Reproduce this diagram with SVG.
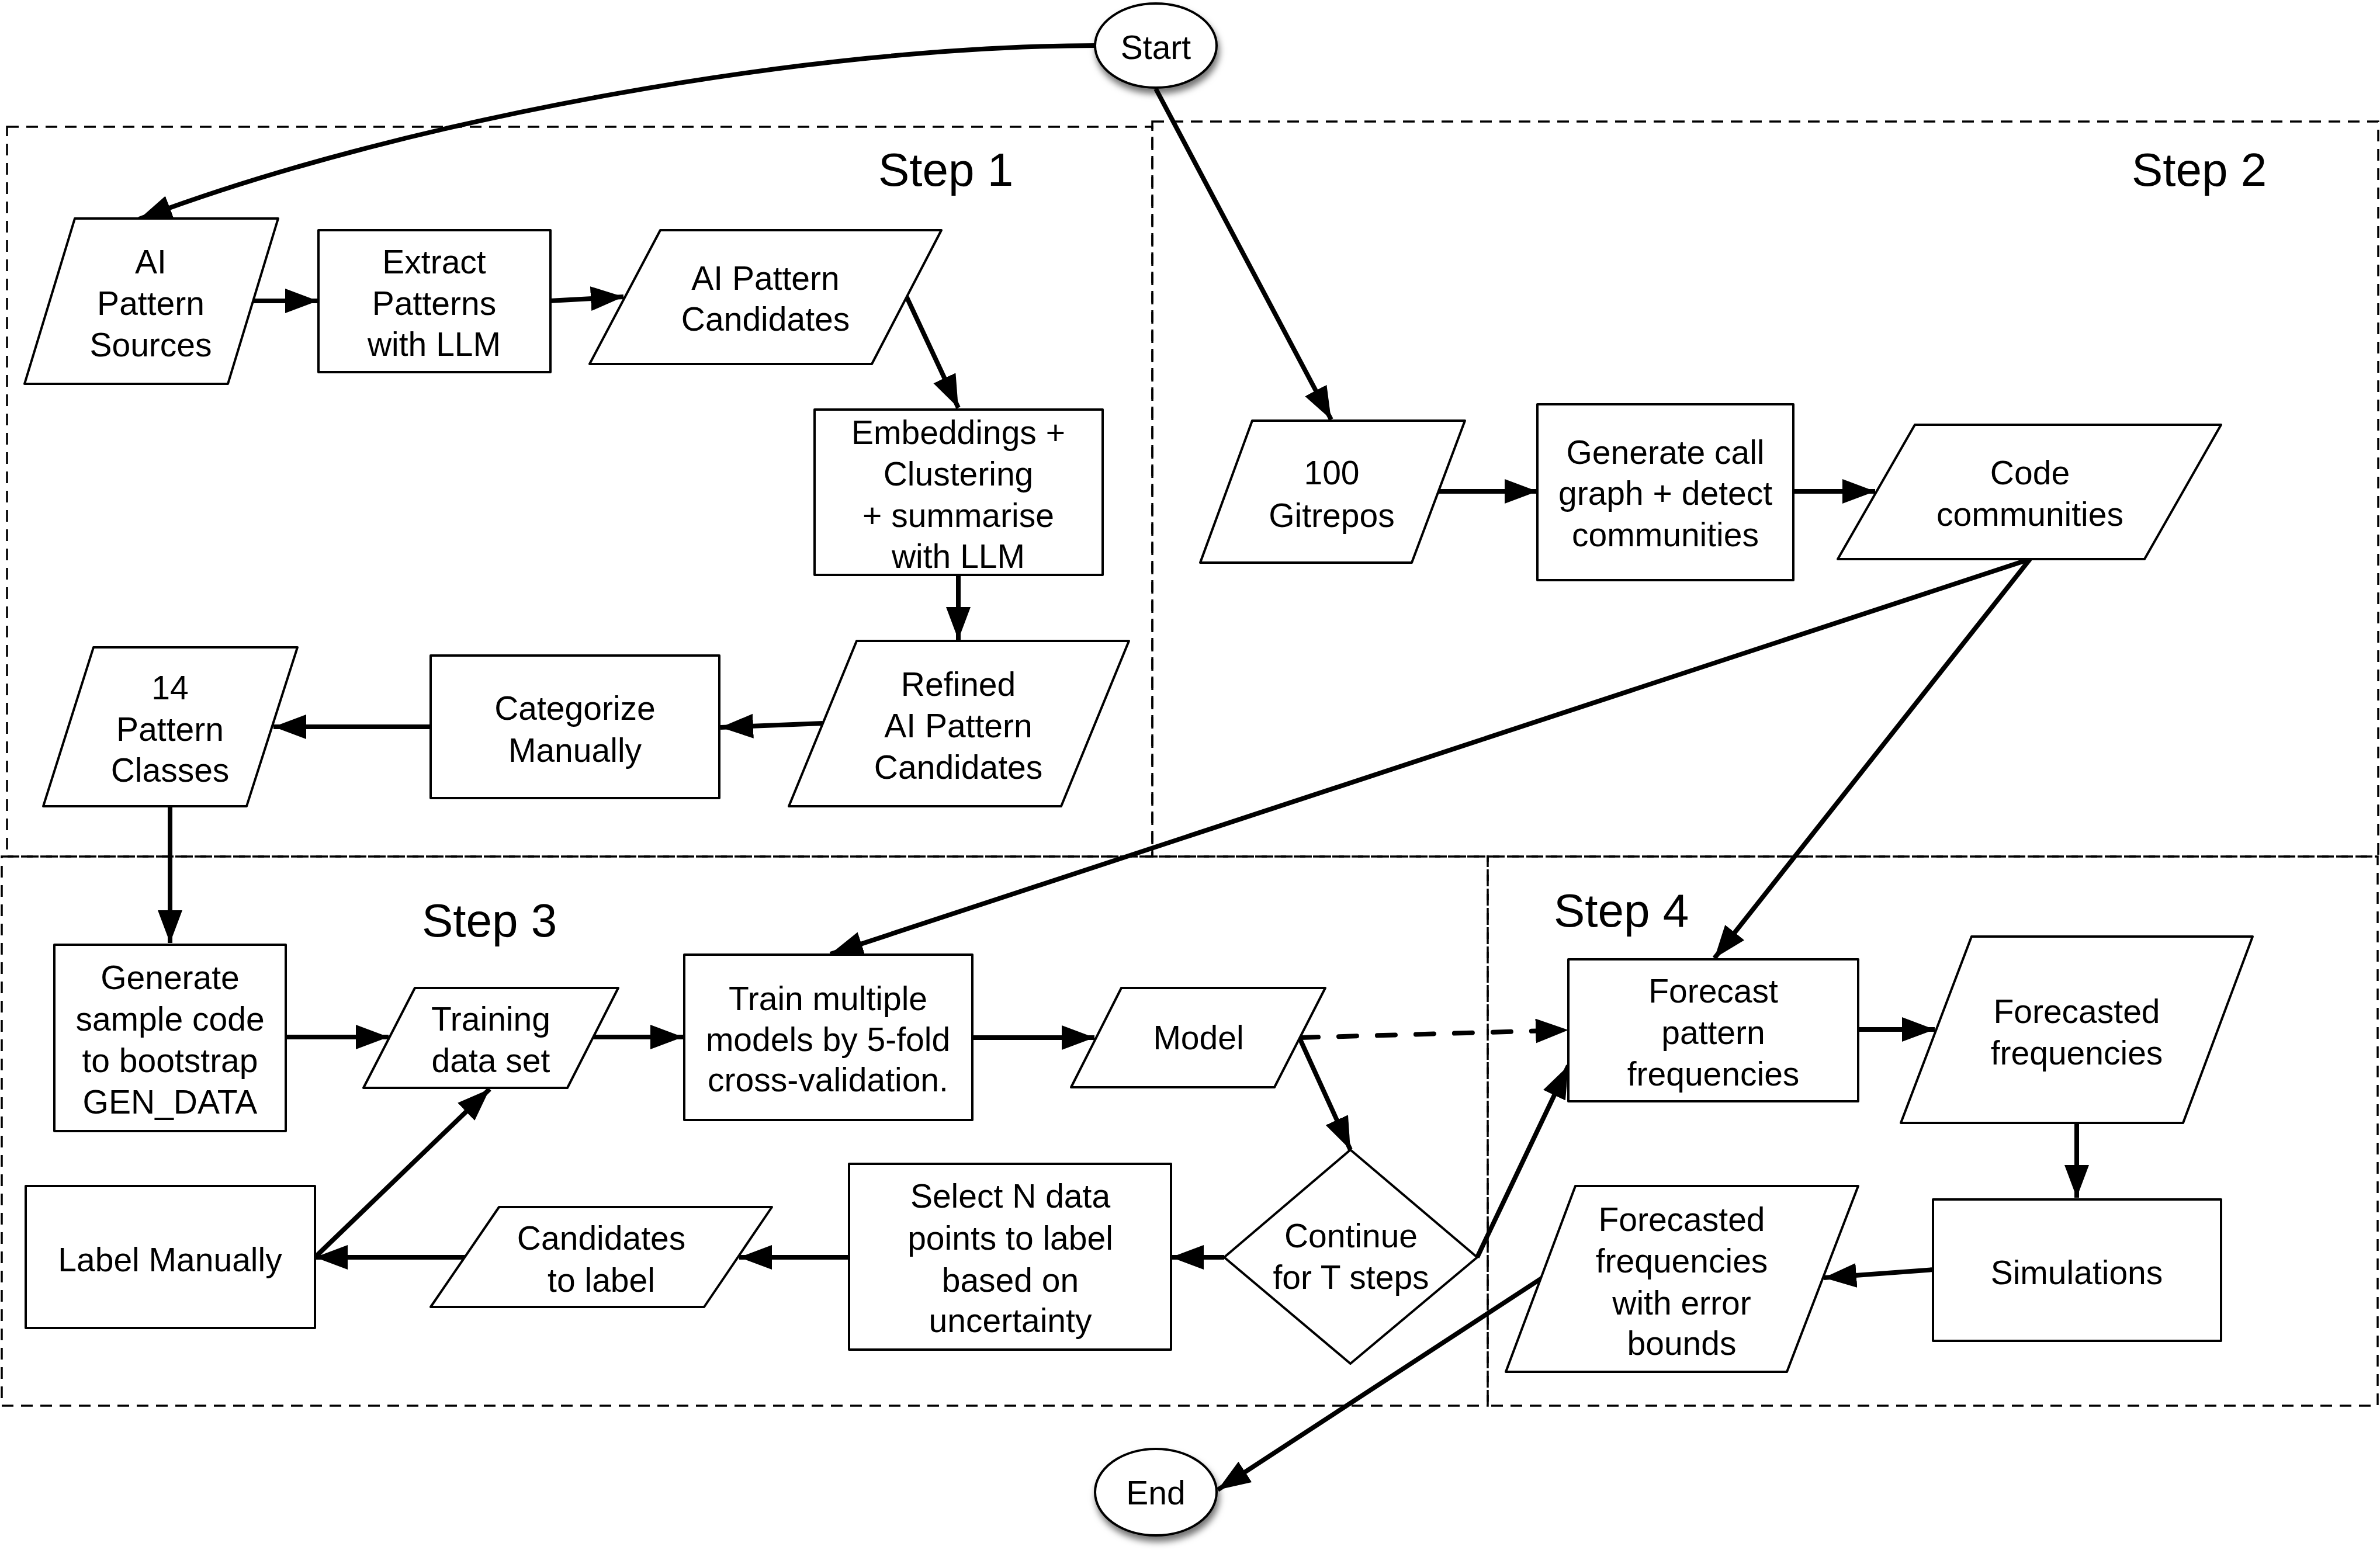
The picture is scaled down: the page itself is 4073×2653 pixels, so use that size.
<svg xmlns="http://www.w3.org/2000/svg" width="4073" height="2653" viewBox="0 0 4073 2653">
<style>
text{font-family:"Liberation Sans",Arial,Helvetica,sans-serif;font-size:57px;fill:#000;text-anchor:middle}
.step{font-size:80px;text-anchor:start}
.box{fill:#fff;stroke:#000;stroke-width:4;stroke-linejoin:round}
.frame{fill:none;stroke:#000;stroke-width:3.5;stroke-dasharray:20 13}
.edge{fill:none;stroke:#000;stroke-width:8}
.dash{stroke-dasharray:31 35;stroke-linecap:round}
</style>
<defs>
<marker id="ah" markerUnits="userSpaceOnUse" markerWidth="60" markerHeight="46" refX="56" refY="21" orient="auto">
<path d="M0,0 L56,21 L0,42 z" fill="#000"/>
</marker>
<filter id="sh" x="-30%" y="-30%" width="160%" height="170%">
<feDropShadow dx="3" dy="9" stdDeviation="6" flood-color="#000" flood-opacity="0.55"/>
</filter>
</defs>
<rect width="4073" height="2653" fill="#fff"/>
<g id="frames">
<rect class="frame" x="12" y="217" width="1960" height="1249"/>
<rect class="frame" x="1972" y="208" width="2098" height="1258"/>
<rect class="frame" x="3" y="1466" width="2543" height="940"/>
<rect class="frame" x="2546" y="1466" width="1523" height="940"/>
<text class="step" x="1503" y="318">Step 1</text>
<text class="step" x="3648" y="318">Step 2</text>
<text class="step" x="722" y="1603">Step 3</text>
<text class="step" x="2659" y="1586">Step 4</text>
</g>
<g id="connectors">
<path class="edge" marker-end="url(#ah)" d="M1874,78 C1400,78 700,200 238,375"/>
<path class="edge" marker-end="url(#ah)" d="M1978,152 L2278,718"/>
<path class="edge" marker-end="url(#ah)" d="M432,515 L544,515"/>
<path class="edge" marker-end="url(#ah)" d="M940,515 L1067,508"/>
<path class="edge" marker-end="url(#ah)" d="M1551,507 L1640,698"/>
<path class="edge" marker-end="url(#ah)" d="M1640,984 L1640,1095"/>
<path class="edge" marker-end="url(#ah)" d="M1408,1238 L1233,1245"/>
<path class="edge" marker-end="url(#ah)" d="M737,1244 L468,1244"/>
<path class="edge" marker-end="url(#ah)" d="M291,1380 L291,1614"/>
<path class="edge" marker-end="url(#ah)" d="M2460,841 L2631,841"/>
<path class="edge" marker-end="url(#ah)" d="M3067,841 L3209,841"/>
<path class="edge" marker-end="url(#ah)" d="M3474,957 L1421,1633"/>
<path class="edge" marker-end="url(#ah)" d="M3474,957 L2934,1640"/>
<path class="edge" marker-end="url(#ah)" d="M487,1775 L665,1775"/>
<path class="edge" marker-end="url(#ah)" d="M1013,1775 L1169,1775"/>
<path class="edge" marker-end="url(#ah)" d="M1664,1776 L1873,1776"/>
<path class="edge dash" marker-end="url(#ah)" d="M2225,1776 L2684,1763"/>
<path class="edge" marker-end="url(#ah)" d="M2225,1779 L2311,1968"/>
<path class="edge" marker-end="url(#ah)" d="M2095,2152 L2004,2152"/>
<path class="edge" marker-end="url(#ah)" d="M1453,2152 L1265,2152"/>
<path class="edge" marker-end="url(#ah)" d="M796,2152 L539,2152"/>
<path class="edge" marker-end="url(#ah)" d="M539,2152 L838,1864"/>
<path class="edge" marker-end="url(#ah)" d="M2528,2152 L2684,1824"/>
<path class="edge" marker-end="url(#ah)" d="M3180,1762 L3311,1762"/>
<path class="edge" marker-end="url(#ah)" d="M3554,1922 L3554,2050"/>
<path class="edge" marker-end="url(#ah)" d="M3310,2173 L3121,2187"/>
<path class="edge" marker-end="url(#ah)" d="M2638,2188 L2084,2550"/>
</g>
<g id="start">
<ellipse class="box" cx="1978" cy="78" rx="104" ry="72" filter="url(#sh)"/>
<text x="1978" y="101">Start</text>
</g>
<g id="ai-pattern-sources">
<polygon class="box" points="128,374 476,374 390,657 42,657"/>
<text x="258" y="468">AI</text><text x="258" y="539">Pattern</text><text x="258" y="610">Sources</text>
</g>
<g id="extract-patterns">
<rect class="box" x="545" y="394" width="397" height="243"/>
<text x="743" y="468">Extract</text><text x="743" y="539">Patterns</text><text x="743" y="609">with LLM</text>
</g>
<g id="ai-pattern-candidates">
<polygon class="box" points="1130,394 1611,394 1492,623 1009,623"/>
<text x="1310" y="496">AI Pattern</text><text x="1310" y="566">Candidates</text>
</g>
<g id="embeddings">
<rect class="box" x="1394" y="701" width="493" height="283"/>
<text x="1640" y="760">Embeddings +</text><text x="1640" y="831">Clustering</text><text x="1640" y="902">+ summarise</text><text x="1640" y="972">with LLM</text>
</g>
<g id="refined-candidates">
<polygon class="box" points="1466,1097 1932,1097 1816,1380 1350,1380"/>
<text x="1640" y="1191">Refined</text><text x="1640" y="1262">AI Pattern</text><text x="1640" y="1333">Candidates</text>
</g>
<g id="categorize">
<rect class="box" x="737" y="1122" width="494" height="244"/>
<text x="984" y="1232">Categorize</text><text x="984" y="1304">Manually</text>
</g>
<g id="pattern-classes">
<polygon class="box" points="160,1108 509,1108 422,1380 74,1380"/>
<text x="291" y="1197">14</text><text x="291" y="1268">Pattern</text><text x="291" y="1338">Classes</text>
</g>
<g id="gitrepos">
<polygon class="box" points="2143,720 2507,720 2416,963 2054,963"/>
<text x="2279" y="829">100</text><text x="2279" y="902">Gitrepos</text>
</g>
<g id="call-graph">
<rect class="box" x="2631" y="692" width="438" height="301"/>
<text x="2850" y="794">Generate call</text><text x="2850" y="864">graph + detect</text><text x="2850" y="935">communities</text>
</g>
<g id="code-communities">
<polygon class="box" points="3277,727 3801,727 3670,957 3145,957"/>
<text x="3474" y="829">Code</text><text x="3474" y="900">communities</text>
</g>
<g id="generate-sample">
<rect class="box" x="93" y="1617" width="396" height="319"/>
<text x="291" y="1693">Generate</text><text x="291" y="1764">sample code</text><text x="291" y="1835">to bootstrap</text><text x="291" y="1906">GEN_DATA</text>
</g>
<g id="training-data">
<polygon class="box" points="710,1691 1058,1691 971,1862 622,1862"/>
<text x="840" y="1764">Training</text><text x="840" y="1835">data set</text>
</g>
<g id="train-models">
<rect class="box" x="1171" y="1634" width="493" height="283"/>
<text x="1417" y="1729">Train multiple</text><text x="1417" y="1799">models by 5-fold</text><text x="1417" y="1868">cross-validation.</text>
</g>
<g id="model">
<polygon class="box" points="1919,1691 2268,1691 2181,1861 1833,1861"/>
<text x="2051" y="1796">Model</text>
</g>
<g id="continue">
<polygon class="box" points="2311,1968 2528,2152 2311,2334 2095,2152"/>
<text x="2312" y="2135">Continue</text><text x="2312" y="2206">for T steps</text>
</g>
<g id="select-n">
<rect class="box" x="1453" y="1992" width="551" height="318"/>
<text x="1729" y="2067">Select N data</text><text x="1729" y="2139">points to label</text><text x="1729" y="2211">based on</text><text x="1729" y="2280">uncertainty</text>
</g>
<g id="candidates-to-label">
<polygon class="box" points="854,2066 1321,2066 1205,2237 737,2237"/>
<text x="1029" y="2139">Candidates</text><text x="1029" y="2211">to label</text>
</g>
<g id="label-manually">
<rect class="box" x="44" y="2030" width="495" height="243"/>
<text x="291" y="2176">Label Manually</text>
</g>
<g id="forecast">
<rect class="box" x="2684" y="1642" width="496" height="243"/>
<text x="2932" y="1716">Forecast</text><text x="2932" y="1787">pattern</text><text x="2932" y="1858">frequencies</text>
</g>
<g id="forecasted-frequencies">
<polygon class="box" points="3374,1603 3855,1603 3736,1922 3253,1922"/>
<text x="3554" y="1751">Forecasted</text><text x="3554" y="1822">frequencies</text>
</g>
<g id="simulations">
<rect class="box" x="3308" y="2053" width="493" height="242"/>
<text x="3554" y="2198">Simulations</text>
</g>
<g id="forecasted-error">
<polygon class="box" points="2696,2030 3180,2030 3058,2348 2577,2348"/>
<text x="2878" y="2107">Forecasted</text><text x="2878" y="2178">frequencies</text><text x="2878" y="2250">with error</text><text x="2878" y="2319">bounds</text>
</g>
<g id="end">
<ellipse class="box" cx="1978" cy="2554" rx="104" ry="74" filter="url(#sh)"/>
<text x="1978" y="2575">End</text>
</g>
</svg>
